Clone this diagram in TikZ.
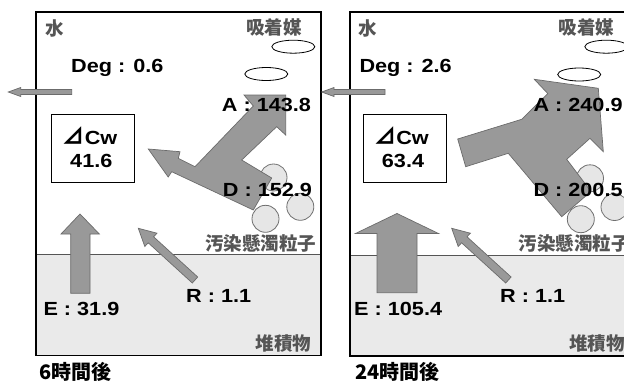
\documentclass[tikz,border=0pt]{standalone}
\usepackage{fontspec}
\setmainfont{Liberation Sans}
\newfontfamily\lab{Liberation Sans}[FakeStretch=1.14]
\newfontfamily\jp{Noto Sans CJK JP}
\usetikzlibrary{shapes.geometric}
\definecolor{fluxgray}{HTML}{999999}
\definecolor{fluxline}{HTML}{6B6B6B}
\definecolor{sedfill}{HTML}{EAEAEA}
\definecolor{sedline}{HTML}{555555}
\definecolor{partfill}{HTML}{E6E6E6}
\definecolor{partline}{HTML}{707070}
\definecolor{jpgray}{HTML}{555555}
\newcommand{\rtri}{{\jp\fontsize{22}{22}\selectfont ⊿}}
\tikzset{
  panelframe/.style={draw=black, line width=1.1pt},
  flux/.style={fill=fluxgray, draw=fluxline, line width=0.7pt, line join=miter},
  particle/.style={circle, draw=partline, fill=partfill, minimum size=27pt, inner sep=0pt, line width=0.8pt},
  sorbent/.style={ellipse, draw=black, fill=white, minimum width=43pt, minimum height=13pt, inner sep=0pt, line width=0.8pt},
  cwbox/.style={draw=black, fill=white, line width=0.8pt, minimum width=83pt, minimum height=68pt, inner sep=0pt},
  lab/.style={font=\lab\bfseries\fontsize{19}{19}\selectfont, inner sep=0pt, anchor=base west},
  cwtext/.style={font=\lab\bfseries\fontsize{19}{19}\selectfont, inner sep=0pt},
  jplab/.style={font=\jp\bfseries\fontsize{18.5}{18.5}\selectfont, text=jpgray, inner sep=0pt},
  timelab/.style={font=\jp\bfseries\fontsize{20}{20}\selectfont, text=black, inner sep=0pt}
}
\begin{document}
\begin{tikzpicture}[x=1pt,y=-1pt]
\clip (0,0) rectangle (624,383);
\fill[white] (0,0) rectangle (624,383);

% ---------------- left panel (6h) ----------------
\fill[sedfill] (36,254) rectangle (321,355.5);
\draw[sedline, line width=0.8pt] (36,254) -- (321,254);
\draw[panelframe] (36,12) rectangle (321,355.5);

\node[particle] (pL1) at (273.5,177.5) {};
\node[particle] (pL2) at (300.3,206.8) {};
\node[particle] (pL3) at (265.5,218.8) {};
\node[sorbent] (sL1) at (293.3,46.7) {};
\node[sorbent] (sL2) at (266.3,74) {};

% outflow arrow
\draw[flux] (71.7,89.5) -- (20.7,89.5) -- (20.7,87.5) -- (8.3,92) -- (20.7,96.5) -- (20.7,94.5) -- (71.7,94.5) -- cycle;
% D / A flux
\draw[flux] (148.3,149) -- (180,151.7) -- (178.3,158.3) -- (195,166.7) -- (253.3,106) -- (244,95) -- (285.7,95) -- (285.7,135) -- (276.7,126.7) -- (241.7,160) -- (271.7,178) -- (253.3,210) -- (171.7,171.7) -- (168.2,177) -- cycle;
% E flux
\draw[flux] (70.7,293.3) -- (70.7,234) -- (61,234) -- (80,214) -- (99.3,234) -- (90,234) -- (90,293.3) -- cycle;
% R flux
\draw[flux] (197.7,277.0) -- (153.6,236.8) -- (157.0,233.2) -- (138.3,228.3) -- (144.8,246.5) -- (148.2,242.8) -- (192.3,283.0) -- cycle;

\node[cwbox] (cwL) at (93.3,148.5) {};
\node[cwtext] (cwLa) at (90,136) {\rtri Cw};
\node[cwtext] (cwLb) at (91.3,160.8) {41.6};

\node[jplab] (wL) at (55,28.5) {水};
\node[jplab] (adL) at (274,27) {吸着媒};
\node[jplab] (spL) at (260.5,243) {汚染懸濁粒子};
\node[jplab] (sdL) at (283.5,343.3) {堆積物};
\node[timelab] (tL) at (75.8,372) {6時間後};

\node[lab] (degL) at (71,72.7) {Deg : 0.6};
\node[lab] (aL) at (221.7,111.7) {A : 143.8};
\node[lab] (dL) at (222.7,196.7) {D : 152.9};
\node[lab] (eL) at (43.3,315) {E : 31.9};
\node[lab] (rL) at (186,302.7) {R : 1.1};

% ---------------- right panel (24h) ----------------
\fill[sedfill] (350,255) rectangle (636,356);
\draw[sedline, line width=0.8pt] (350,255) -- (636,255);
\draw[panelframe] (350,12) rectangle (636,356);

\node[particle] (pR1) at (590,178.3) {};
\node[particle] (pR2) at (614.5,207) {};
\node[particle] (pR3) at (580.8,219.2) {};
\node[sorbent] (sR1) at (606.3,46.7) {};
\node[sorbent] (sR2) at (579.2,74.5) {};

\draw[flux] (385,89.5) -- (334,89.5) -- (334,87.5) -- (321.7,92) -- (334,96.5) -- (334,94.5) -- (385,94.5) -- cycle;
\draw[flux] (457.7,139) -- (521.7,119.3) -- (547.8,93.6) -- (534.3,79.3) -- (598.3,88.3) -- (603.3,151.7) -- (590,138.3) -- (566.7,159.3) -- (591,191.5) -- (561.7,216.7) -- (508.3,153.3) -- (465.7,166.7) -- cycle;
\draw[flux] (377,292.7) -- (377,233.5) -- (355.5,233.5) -- (397,213.5) -- (438.5,233.5) -- (417,233.5) -- (417,292.7) -- cycle;
\draw[flux] (511.1,277.0) -- (467.0,236.8) -- (470.4,233.2) -- (451.7,228.3) -- (458.2,246.5) -- (461.6,242.8) -- (505.7,283.0) -- cycle;

\node[cwbox] (cwR) at (405,148) {};
\node[cwtext] (cwRa) at (401.5,136) {\rtri Cw};
\node[cwtext] (cwRb) at (403,160.8) {63.4};

\node[jplab] (wR) at (368,28.5) {水};
\node[jplab] (adR) at (586.7,27) {吸着媒};
\node[jplab] (spR) at (574,243) {汚染懸濁粒子};
\node[jplab] (sdR) at (597,343.3) {堆積物};
\node[timelab] (tR) at (397.5,372) {24時間後};

\node[lab] (degR) at (359.3,72.7) {Deg : 2.6};
\node[lab] (aR) at (533.3,111.7) {A : 240.9};
\node[lab] (dR) at (533.3,196.7) {D : 200.5};
\node[lab] (eR) at (354,315) {E : 105.4};
\node[lab] (rR) at (500,302.7) {R : 1.1};
\end{tikzpicture}
\end{document}
